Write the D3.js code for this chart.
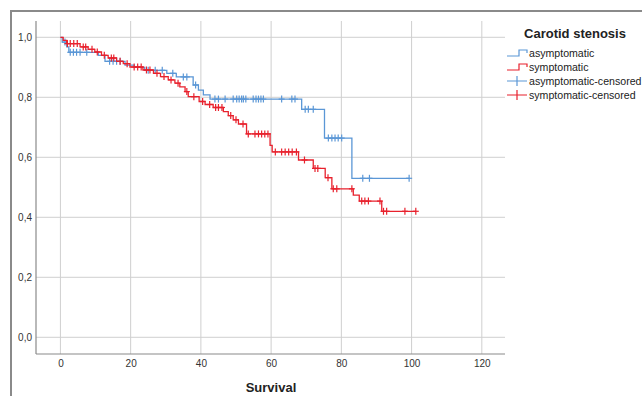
<!DOCTYPE html>
<html>
<head>
<meta charset="utf-8">
<script src="https://cdn.jsdelivr.net/npm/d3@7"></script>
<style>
  html, body { margin: 0; padding: 0; background: #fff; }
  svg { display: block; font-family: Arial, "Liberation Sans", sans-serif; }
</style>
</head>
<body>
<svg id="chart" width="642" height="396"></svg>
<script>
// Kaplan-Meier estimates: step times (months) and survival after each step
const asymTimes = [0, 0.5, 1.8, 2.4, 10.8, 12.7, 18.4, 21, 24, 30.3, 33, 37.8, 39.3, 40.7, 42.6, 68.7, 75.2, 83.0, 99.3];
const asymSurv  = [1.0, 0.984, 0.968, 0.950, 0.940, 0.920, 0.907, 0.900, 0.890, 0.880, 0.868, 0.841, 0.824, 0.808, 0.794, 0.760, 0.664, 0.530, 0.530];
const asymCensored = [1.3, 2.8, 3.7, 4.6, 5.6, 7.5, 14, 15, 16, 17, 25, 27, 29, 32, 35, 36, 38.5,
  44.0, 45.0, 46.9, 49.2, 50.2, 50.9, 51.6, 52.1, 52.8, 54.9, 55.7, 56.4, 57.1, 57.8, 63.0, 65.9, 66.8,
  69.7, 70.6, 72.0, 76.3, 77.3, 78.2, 79.1, 80.1, 86.1, 88.0, 99.3];

const symTimes = [0, 0.8, 1.8, 5.6, 7.9, 9.8, 11.7, 13.6, 16, 17.9, 19.8, 23.5, 26.5, 28.5, 30.7, 32.6, 34.0, 35.5, 36.4,
  39.5, 41.2, 43.5, 46.4, 47.8, 49.2, 50.7, 53.0, 59.7, 60.3, 67.8, 72.0, 75.4, 77.3, 83.4, 85.1, 91.5, 101.2];
const symSurv  = [1.0, 0.990, 0.979, 0.968, 0.960, 0.951, 0.940, 0.931, 0.920, 0.912, 0.901, 0.891, 0.880, 0.869, 0.858, 0.847, 0.835, 0.819, 0.802,
  0.786, 0.776, 0.766, 0.752, 0.739, 0.725, 0.711, 0.678, 0.640, 0.618, 0.591, 0.563, 0.532, 0.495, 0.474, 0.454, 0.420, 0.420];
const symCensored = [2.0, 2.8, 3.8, 4.8, 6.5, 7.2, 9, 10.5, 12.5, 14.5, 15.2, 17, 19, 21, 22, 23, 24.5, 25.5, 27.5, 29.5, 31.5, 33.5, 36, 38,
  40.5, 42.5, 44.2, 45, 46, 48.5, 50, 52, 53.5, 55.4, 56.4, 57.3, 58.2, 59.1, 61.2, 63.0, 64.0, 65.0, 66.0, 67.2,
  69.5, 72.5, 73.3, 76.2, 77.7, 78.7, 83.0, 85.8, 86.7, 87.7, 91.0, 92.0, 92.9, 98.1, 101.2];

const xTicks = [0, 20, 40, 60, 80, 100, 120];
const yTicks = [0, 0.2, 0.4, 0.6, 0.8, 1.0];
const legendTitle = "Carotid stenosis";
const legendLabels = ["asymptomatic", "symptomatic", "asymptomatic-censored", "symptomatic-censored"];
const xTitle = "Survival";

const blue = "#5b97d6";
const red = "#e8212d";
const gridColor = "#cfcfcf";

const svg = d3.select("#chart");

// outer frame
svg.append("path")
  .attr("d", "M11,400 L11,11 L650,11")
  .attr("fill", "none").attr("stroke", "#8a8a8a").attr("stroke-width", 2);

// plot area
const plot = { left: 36, right: 505, top: 21, bottom: 354 };
const x = d3.scaleLinear().domain([-6.95, 126.6]).range([plot.left, plot.right]);
const y = d3.scaleLinear().domain([-0.0557, 1.0543]).range([plot.bottom, plot.top]);

// grid
const grid = svg.append("g");
grid.selectAll("line.v").data(xTicks).join("line")
  .attr("x1", d => x(d)).attr("x2", d => x(d))
  .attr("y1", plot.top).attr("y2", plot.bottom)
  .attr("stroke", gridColor).attr("stroke-width", 1);
grid.selectAll("line.h").data(yTicks).join("line")
  .attr("x1", plot.left).attr("x2", plot.right)
  .attr("y1", d => y(d)).attr("y2", d => y(d))
  .attr("stroke", gridColor).attr("stroke-width", 1);

// axes
const fmt = d => d3.format(".1f")(d).replace(".", ",");
const yAxis = svg.append("g").attr("transform", `translate(${plot.left},0)`)
  .call(d3.axisLeft(y).tickValues(yTicks).tickFormat(fmt).tickSize(0).tickPadding(4));
const xAxis = svg.append("g").attr("transform", `translate(0,${plot.bottom})`)
  .call(d3.axisBottom(x).tickValues(xTicks).tickFormat(d3.format("d")).tickSize(0).tickPadding(6));
[xAxis, yAxis].forEach(a => {
  a.select(".domain").attr("stroke", "#8a8a8a").attr("stroke-width", 1.2);
  a.selectAll("text").attr("font-size", 10).attr("fill", "#333")
    .attr("font-family", "Arial, 'Liberation Sans', sans-serif");
});
// extend axis lines across the full plot area
yAxis.select(".domain").attr("d", `M0,${plot.top}V${plot.bottom}`);
xAxis.select(".domain").attr("d", `M${plot.left},0H${plot.right}`);

svg.append("text")
  .attr("x", 271).attr("y", 392)
  .attr("text-anchor", "middle")
  .attr("font-size", 13).attr("font-weight", "bold").attr("fill", "#222")
  .text(xTitle);

// survival step curves
const line = d3.line().x(d => x(d[0])).y(d => y(d[1])).curve(d3.curveStepAfter);
function drawCurve(times, surv, censored, color) {
  const pts = times.map((t, i) => [t, surv[i]]);
  svg.append("path").datum(pts)
    .attr("d", line)
    .attr("fill", "none").attr("stroke", color).attr("stroke-width", 1.3);
  const survAt = t => surv[d3.bisectRight(times, t) - 1];
  const g = svg.append("g").attr("stroke", color).attr("stroke-width", 1.2);
  censored.forEach(t => {
    const cx = x(t), cy = y(survAt(t));
    g.append("line").attr("x1", cx).attr("x2", cx).attr("y1", cy - 3.5).attr("y2", cy + 3.5);
    g.append("line").attr("x1", cx - 3).attr("x2", cx + 3).attr("y1", cy).attr("y2", cy);
  });
}
drawCurve(asymTimes, asymSurv, asymCensored, blue);
drawCurve(symTimes, symSurv, symCensored, red);

// legend
const lg = svg.append("g");
lg.append("text").attr("x", 575).attr("y", 38).attr("text-anchor", "middle")
  .attr("font-size", 13).attr("font-weight", "bold").attr("fill", "#222").text(legendTitle);
const rowY = [53, 67, 81, 95];
const legendColors = [blue, red, blue, red];
legendLabels.forEach((lab, i) => {
  const cy = rowY[i];
  if (i < 2) {
    lg.append("path")
      .attr("d", `M507,${cy + 3}H519V${cy - 3}H527V${cy}`)
      .attr("fill", "none").attr("stroke", legendColors[i]).attr("stroke-width", 1.2);
  } else {
    lg.append("path")
      .attr("d", `M507,${cy}H527M517,${cy - 5}V${cy + 5}`)
      .attr("fill", "none").attr("stroke", legendColors[i]).attr("stroke-width", 1.2);
  }
  lg.append("text").attr("x", 529).attr("y", cy + 4)
    .attr("font-size", 10.6).attr("fill", "#222").text(lab);
});
</script>
</body>
</html>
